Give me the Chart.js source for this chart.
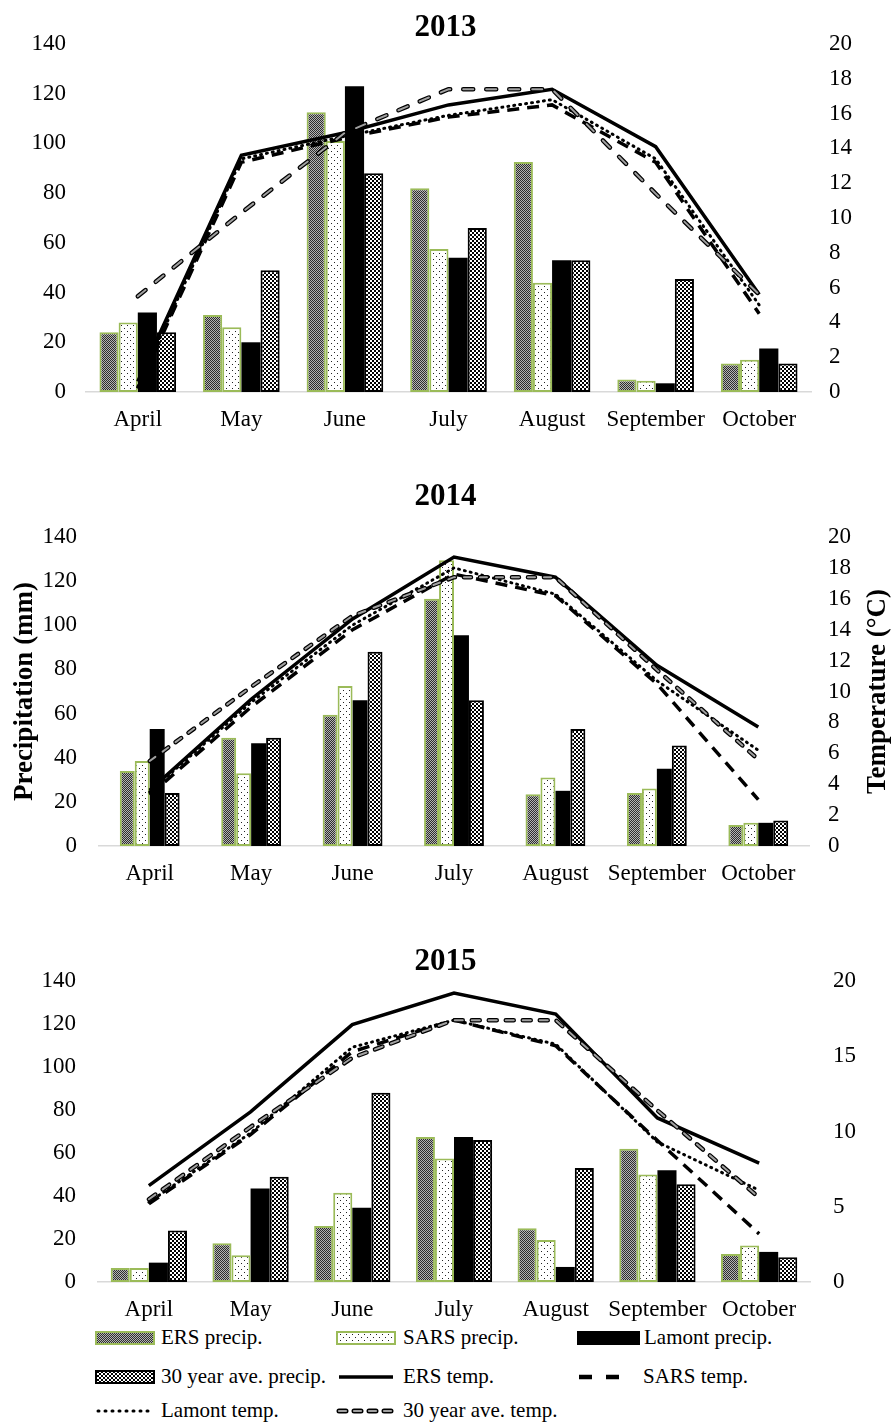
<!DOCTYPE html>
<html>
<head>
<meta charset="utf-8">
<title>Precipitation and temperature, 2013–2015</title>
<script src="https://cdn.jsdelivr.net/npm/chart.js@4.4.1/dist/chart.umd.min.js"></script>
<style>
  html, body { margin: 0; padding: 0; background: #fff; }
  #page { position: relative; width: 891px; height: 1425px; overflow: hidden;
          font-family: 'Liberation Serif', 'Times New Roman', serif; }
  .panel { position: absolute; left: 0; }
  .lg-text { position: absolute; font-size: 21px; line-height: 21px; color: #000; white-space: nowrap; }
  .lg-sw { position: absolute; }
</style>
</head>
<body>
<div id="page">
  <canvas id="c2013" class="panel" width="891" height="440" style="top:0px"></canvas>
  <canvas id="c2014" class="panel" width="891" height="440" style="top:455px"></canvas>
  <canvas id="c2015" class="panel" width="891" height="405" style="top:920px"></canvas>
  <div id="legend"></div>
</div>
<script>
// ---- data ----------------------------------------------------------------
const months = ['April', 'May', 'June', 'July', 'August', 'September', 'October'];

const ersPrecip2013    = [24, 31, 112.5, 82, 92.5, 5, 11.5];
const sarsPrecip2013   = [28, 26, 101, 57.5, 44, 4.5, 13];
const lamontPrecip2013 = [32, 20, 123, 54, 53, 3.5, 17.5];
const ersTemp2013      = [0.6, 13.6, 14.9, 16.5, 17.4, 14.1, 5.6];
const sarsTemp2013     = [0.2, 13.2, 14.6, 15.8, 16.5, 13.2, 4.5];
const lamontTemp2013   = [0.3, 13.4, 14.7, 15.9, 16.8, 13.4, 5.0];

const ersPrecip2014    = [34, 49, 59.5, 112, 23.5, 24, 9.5];
const sarsPrecip2014   = [38.5, 33, 72.5, 129.5, 31, 26, 10.5];
const lamontPrecip2014 = [53, 46.5, 66, 95.5, 25, 35, 10.5];
const ersTemp2014      = [3.6, 9.5, 14.7, 18.7, 17.4, 11.7, 7.7];
const sarsTemp2014     = [3.3, 9.0, 14.0, 17.6, 16.2, 10.5, 3.0];
const lamontTemp2014   = [3.5, 9.3, 14.3, 18.0, 16.3, 10.7, 6.2];

const ersPrecip2015    = [6.5, 18, 26, 67.5, 25, 62, 13];
const sarsPrecip2015   = [6.5, 12.5, 41.5, 57.5, 19.5, 50, 17];
const lamontPrecip2015 = [9, 43.5, 34.5, 67.5, 7, 52, 14];
const ersTemp2015      = [6.4, 11.3, 17.1, 19.2, 17.8, 10.9, 7.9];
const sarsTemp2015     = [5.2, 9.8, 15.3, 17.4, 15.7, 9.4, 3.2];
const lamontTemp2015   = [5.3, 9.9, 15.6, 17.4, 15.8, 9.3, 6.1];

const thirtyYearPrecip = [24, 49, 88, 66, 53, 45.5, 11.5];
const thirtyYearTemp   = [5.5, 10.3, 14.9, 17.4, 17.4, 11.4, 5.6];

const seriesNames = ['ERS precip.', 'SARS precip.', 'Lamont precip.', '30 year ave. precip.',
                     'ERS temp.', 'SARS temp.', 'Lamont temp.', '30 year ave. temp.'];

// ---- styling helpers ------------------------------------------------------
const FONT = "'Liberation Serif', 'Times New Roman', serif";
const GREEN = '#9bbb59';
const GRAY_DASH = '#a0a0a0';

function tile(w, h, bg, pixels) {
  const c = document.createElement('canvas');
  c.width = w; c.height = h;
  const t = c.getContext('2d');
  t.fillStyle = bg; t.fillRect(0, 0, w, h);
  pixels.forEach(([x, y, cw, ch, col]) => { t.fillStyle = col; t.fillRect(x, y, cw, ch); });
  return c;
}
const ersTile = tile(2, 2, '#b4b4b4', [[0, 0, 1, 1, '#2e2e2e'], [1, 1, 1, 1, '#2e2e2e']]);
const sarsTile = tile(6, 6, '#ffffff', [[1, 1, 1, 1, '#222'], [4, 4, 1, 1, '#222']]);
const avgTile = tile(4, 4, '#ffffff', [[0, 0, 2, 2, '#000'], [2, 2, 2, 2, '#000']]);

function makePatterns(ctx) {
  return {
    ers: ctx.createPattern(ersTile, 'repeat'),
    sars: ctx.createPattern(sarsTile, 'repeat'),
    avg: ctx.createPattern(avgTile, 'repeat')
  };
}

// rotated title on the right-hand temperature axis, reading bottom to top
const rightAxisTitle = {
  id: 'rightAxisTitle',
  afterDraw(chart, args, opts) {
    if (!opts || !opts.text) return;
    const { ctx, chartArea } = chart;
    ctx.save();
    ctx.translate(opts.x, (chartArea.top + chartArea.bottom) / 2);
    ctx.rotate(-Math.PI / 2);
    ctx.font = 'bold 27px ' + FONT;
    ctx.fillStyle = '#000';
    ctx.textAlign = 'center';
    ctx.textBaseline = 'middle';
    ctx.fillText(opts.text, 0, 0);
    ctx.restore();
  }
};

function buildChart(id, p) {
  const canvas = document.getElementById(id);
  const ctx = canvas.getContext('2d');
  const pat = makePatterns(ctx);
  const H = canvas.height;
  const areaTopLocal = p.areaTop - p.canvasTop;
  const areaBottomLocal = p.areaBottom - p.canvasTop;
  const titlePadTop = p.titleCenter - p.canvasTop - 15.5;
  const titlePadBottom = areaTopLocal - titlePadTop - 31;

  const barCommon = { type: 'bar', yAxisID: 'y', order: 2, borderSkipped: false,
                      categoryPercentage: p.catPct, barPercentage: 1.0 };
  const lineCommon = { type: 'line', yAxisID: 'yT', order: 1, pointRadius: 0,
                       pointHoverRadius: 0, tension: 0, fill: false };

  const datasets = [
    Object.assign({}, barCommon, { label: seriesNames[0], data: p.ersP, backgroundColor: pat.ers,
      borderColor: GREEN, borderWidth: 2 }),
    Object.assign({}, barCommon, { label: seriesNames[1], data: p.sarsP, backgroundColor: pat.sars,
      borderColor: GREEN, borderWidth: 2 }),
    Object.assign({}, barCommon, { label: seriesNames[2], data: p.lamontP, backgroundColor: '#000',
      borderColor: '#000', borderWidth: 0 }),
    Object.assign({}, barCommon, { label: seriesNames[3], data: thirtyYearPrecip, backgroundColor: pat.avg,
      borderColor: '#000', borderWidth: 2 }),
    Object.assign({}, lineCommon, { label: seriesNames[4], data: p.ersT, borderColor: '#000',
      borderWidth: 3.5, borderJoinStyle: 'miter' }),
    Object.assign({}, lineCommon, { label: seriesNames[5], data: p.sarsT, borderColor: '#000',
      borderWidth: 3.5, borderDash: [12, 8], borderCapStyle: 'butt' }),
    Object.assign({}, lineCommon, { label: seriesNames[6], data: p.lamontT, borderColor: '#000',
      borderWidth: 3, borderDash: [1, 5], borderCapStyle: 'round' }),
    Object.assign({}, lineCommon, { label: seriesNames[7], data: thirtyYearTemp, borderColor: '#000',
      borderWidth: 4.5, borderDash: p.avgDash, borderCapStyle: 'round' }),
    Object.assign({}, lineCommon, { label: seriesNames[7], data: thirtyYearTemp, borderColor: GRAY_DASH,
      borderWidth: 2, borderDash: p.avgDash, borderCapStyle: 'round', order: 0 })
  ];

  return new Chart(ctx, {
    data: { labels: months, datasets },
    plugins: [rightAxisTitle],
    options: {
      responsive: false,
      animation: false,
      devicePixelRatio: 1,
      layout: { padding: 0 },
      plugins: {
        legend: { display: false },
        tooltip: { enabled: false },
        title: { display: true, text: p.title, color: '#000',
                 font: { family: FONT, size: 31, weight: 'bold', lineHeight: 1 },
                 padding: { top: titlePadTop, bottom: titlePadBottom } },
        rightAxisTitle: { text: p.rightTitle || '', x: p.rightTitleX }
      },
      scales: {
        x: {
          type: 'category',
          grid: { display: false, drawTicks: false },
          border: { display: true, color: '#d9d9d9', width: 1.5 },
          ticks: { color: '#000', font: { family: FONT, size: 23 }, padding: 14,
                   maxRotation: 0, autoSkip: false },
          afterFit(scale) { scale.height = H - areaBottomLocal; }
        },
        y: {
          position: 'left', min: 0, max: 140,
          grid: { display: false, drawTicks: false },
          border: { display: false },
          ticks: { stepSize: 20, color: '#000', font: { family: FONT, size: 23 }, padding: p.leftPad },
          title: p.leftTitle ? { display: true, text: p.leftTitle, color: '#000',
                   font: { family: FONT, size: 27, weight: 'bold' }, padding: { top: 9, bottom: 0 } }
                 : { display: false },
          afterFit(scale) { scale.width = p.areaLeft; }
        },
        yT: {
          position: 'right', min: 0, max: 20,
          grid: { display: false, drawTicks: false },
          border: { display: false },
          ticks: { stepSize: p.tempStep, color: '#000', font: { family: FONT, size: 23 }, padding: p.rightPad },
          afterFit(scale) { scale.width = 891 - p.areaRight; }
        }
      }
    }
  });
}

buildChart('c2013', {
  title: '2013', canvasTop: 0, titleCenter: 28, areaTop: 44, areaBottom: 392,
  areaLeft: 86, areaRight: 811, catPct: 0.74, tempStep: 2, leftPad: 20, rightPad: 18,
  avgDash: [10, 13],
  ersP: ersPrecip2013, sarsP: sarsPrecip2013, lamontP: lamontPrecip2013,
  ersT: ersTemp2013, sarsT: sarsTemp2013, lamontT: lamontTemp2013
});

buildChart('c2014', {
  title: '2014', canvasTop: 455, titleCenter: 497, areaTop: 537, areaBottom: 846,
  areaLeft: 99, areaRight: 809, catPct: 0.59, tempStep: 2, leftPad: 22, rightPad: 19,
  avgDash: [7, 9],
  leftTitle: 'Precipitation (mm)', rightTitle: 'Temperature (°C)', rightTitleX: 878,
  ersP: ersPrecip2014, sarsP: sarsPrecip2014, lamontP: lamontPrecip2014,
  ersT: ersTemp2014, sarsT: sarsTemp2014, lamontT: lamontTemp2014
});

buildChart('c2015', {
  title: '2015', canvasTop: 920, titleCenter: 962, areaTop: 981, areaBottom: 1282,
  areaLeft: 98, areaRight: 810, catPct: 0.75, tempStep: 5, leftPad: 22, rightPad: 23,
  avgDash: [8, 9],
  ersP: ersPrecip2015, sarsP: sarsPrecip2015, lamontP: lamontPrecip2015,
  ersT: ersTemp2015, sarsT: sarsTemp2015, lamontT: lamontTemp2015
});

// ---- shared legend --------------------------------------------------------
const legendItems = [
  { name: seriesNames[0], kind: 'bar', fill: ersTile,  stroke: GREEN, sx: 95,  tx: 161, cy: 1338, w: 60 },
  { name: seriesNames[1], kind: 'bar', fill: sarsTile, stroke: GREEN, sx: 336, tx: 403, cy: 1338, w: 60 },
  { name: seriesNames[2], kind: 'bar', fill: null,     stroke: '#000', sx: 577, tx: 644, cy: 1338, w: 63 },
  { name: seriesNames[3], kind: 'bar', fill: avgTile,  stroke: '#000', sx: 95,  tx: 161, cy: 1377, w: 60 },
  { name: seriesNames[4], kind: 'solid', sx: 336, tx: 403, cy: 1377, w: 60 },
  { name: seriesNames[5], kind: 'dash',  sx: 576, tx: 643, cy: 1377, w: 52 },
  { name: seriesNames[6], kind: 'dot',   sx: 95,  tx: 161, cy: 1411, w: 57 },
  { name: seriesNames[7], kind: 'avg',   sx: 336, tx: 403, cy: 1411, w: 60 }
];

const legendBox = document.getElementById('legend');
legendItems.forEach(it => {
  const sw = document.createElement('canvas');
  const h = 16;
  sw.width = it.w; sw.height = h;
  sw.className = 'lg-sw';
  sw.style.left = it.sx + 'px';
  sw.style.top = (it.cy - h / 2) + 'px';
  const g = sw.getContext('2d');
  if (it.kind === 'bar') {
    g.fillStyle = it.fill ? g.createPattern(it.fill, 'repeat') : '#000';
    g.fillRect(1, 2, it.w - 2, h - 4);
    g.strokeStyle = it.stroke; g.lineWidth = 2;
    g.strokeRect(1, 2, it.w - 2, h - 4);
  } else {
    const y = h / 2;
    const line = (lw, dash, cap, col) => {
      g.beginPath(); g.setLineDash(dash); g.lineCap = cap; g.lineWidth = lw;
      g.strokeStyle = col || '#000';
      g.moveTo(3, y); g.lineTo(it.w - 3, y); g.stroke();
    };
    if (it.kind === 'solid') line(3.5, [], 'butt');
    if (it.kind === 'dash') line(4.5, [13, 14], 'butt');
    if (it.kind === 'dot') line(3, [1, 6], 'round');
    if (it.kind === 'avg') { line(5, [7, 8], 'round'); line(2.2, [7, 8], 'round', GRAY_DASH); }
  }
  legendBox.appendChild(sw);
  const tx = document.createElement('div');
  tx.className = 'lg-text';
  tx.textContent = it.name;
  tx.style.left = it.tx + 'px';
  tx.style.top = (it.cy - 11) + 'px';
  legendBox.appendChild(tx);
});
</script>
</body>
</html>
